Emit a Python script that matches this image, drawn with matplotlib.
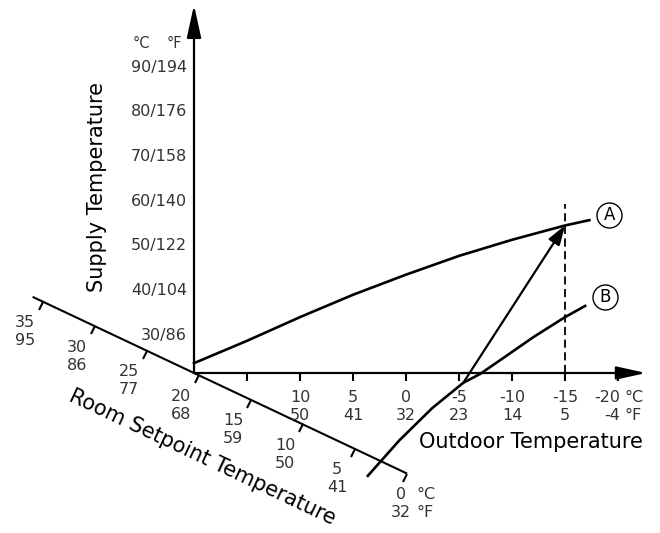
import matplotlib
matplotlib.use('Agg')
import matplotlib.pyplot as plt
from matplotlib.markers import MarkerStyle, TICKDOWN
from matplotlib.transforms import Affine2D
import numpy as np

plt.rcParams['font.family'] = ['DejaVu Sans', 'Liberation Sans']

# ---------------- data ----------------
supply_c = [30, 40, 50, 60, 70, 80, 90]
supply_f = [86, 104, 122, 140, 158, 176, 194]

outdoor_ticks = [15, 10, 5, 0, -5, -10, -15, -20]
outdoor_c = ['', '10', '5', '0', '-5', '-10', '-15', '-20']
outdoor_f = ['', '50', '41', '32', '23', '14', '5', '-4']

room_ticks = [35, 30, 25, 20, 15, 10, 5, 0]
room_c = ['35', '30', '25', '20', '15', '10', '5', '0']
room_f = ['95', '86', '77', '68', '59', '50', '41', '32']

curve_a_outdoor = [20, 15, 10, 5, 0, -5, -10, -15, -17.3]
curve_a_supply = [22.2, 27.2, 32.5, 37.5, 42.0, 46.2, 49.8, 53.0, 54.2]

curve_b_outdoor = [3.6, 0.6, -2.5, -5.4, -7.0, -8.9, -12.0, -15.0, -16.9]
curve_b_supply = [-3.0, 5.0, 12.2, 17.8, 19.8, 22.9, 28.0, 32.5, 35.0]

shift_from = (-5.4, 17.8)   # (outdoor, supply) on curve B
shift_to = (-15.0, 53.0)    # (outdoor, supply) on curve A
design_outdoor = -15
origin = (20, 20)           # outdoor 20 / supply 20 / room 20

# ---------------- layout ----------------
W, H = 660, 533
OX, OY = 194, 373          # origin in image pixels
PX_T, PX_S = 10.6, 4.47    # pixels per degree
fig = plt.figure(figsize=(W / 100, H / 100), dpi=100)
ax = fig.add_axes([0, 0, 1, 1])
ax.set_xlim(20 + OX / PX_T, 20 - (W - OX) / PX_T)
ax.set_ylim(20 - (H - OY) / PX_S, 20 + OY / PX_S)
ax.axis('off')

inv = ax.transData.inverted()


def img2data(x, y):
    return inv.transform((x, H - y))


LBL = '#333333'
TFS = 11.5
TITLE_FS = 15

# axes arrows
ax.annotate('', xy=(20, 20 + (OY - 5) / PX_S), xytext=origin,
            arrowprops=dict(arrowstyle='-|>,head_length=1.0,head_width=0.22',
                            mutation_scale=20, lw=1.6, color='k',
                            shrinkA=0, shrinkB=0))
ax.annotate('', xy=(20 - (646 - OX) / PX_T, 20), xytext=origin,
            arrowprops=dict(arrowstyle='-|>,head_length=0.9,head_width=0.2',
                            mutation_scale=20, lw=1.6, color='k',
                            shrinkA=0, shrinkB=0))

# outdoor ticks & labels
ax.plot(outdoor_ticks, [20] * len(outdoor_ticks), ls='none', marker=TICKDOWN,
        ms=6, mew=1.5, color='k')
for t, c, f in zip(outdoor_ticks, outdoor_c, outdoor_f):
    if not c:
        continue
    if t == outdoor_ticks[-1]:
        ax.annotate(c, (t, 20), xytext=(2, -24), textcoords='offset pixels',
                    ha='right', va='center', fontsize=TFS, color=LBL)
        ax.annotate(f, (t, 20), xytext=(2, -42), textcoords='offset pixels',
                    ha='right', va='center', fontsize=TFS, color=LBL)
        ax.annotate('°C', (t, 20), xytext=(7, -24), textcoords='offset pixels',
                    ha='left', va='center', fontsize=TFS, color=LBL)
        ax.annotate('°F', (t, 20), xytext=(7, -42), textcoords='offset pixels',
                    ha='left', va='center', fontsize=TFS, color=LBL)
    else:
        ax.annotate(c, (t, 20), xytext=(0, -24), textcoords='offset pixels',
                    ha='center', va='center', fontsize=TFS, color=LBL)
        ax.annotate(f, (t, 20), xytext=(0, -42), textcoords='offset pixels',
                    ha='center', va='center', fontsize=TFS, color=LBL)

# supply labels
for c, f in zip(supply_c, supply_f):
    ax.annotate(f'{c}/{f}', (20, c), xytext=(-7, -7), textcoords='offset pixels',
                ha='right', va='center', fontsize=TFS, color=LBL)
ax.annotate('°C', (20, supply_c[-1]), xytext=(-53, 17), textcoords='offset pixels',
            ha='center', va='center', fontsize=TFS - 1, color=LBL)
ax.annotate('°F', (20, supply_c[-1]), xytext=(-20, 17), textcoords='offset pixels',
            ha='center', va='center', fontsize=TFS - 1, color=LBL)

# oblique room setpoint axis
SLOPE = 0.472
ANG = np.degrees(np.arctan(SLOPE))
ROOM_PX = 10.4
ROOM_SHIFT = 5


def room_data(r):
    dx = ROOM_SHIFT + (20 - r) * ROOM_PX
    return img2data(OX + dx, OY + dx * SLOPE)


r_line = [36, 0]
pts = np.array([room_data(r) for r in r_line])
ax.plot(pts[:, 0], pts[:, 1], color='k', lw=1.5, solid_capstyle='butt')
tpts = np.array([room_data(r) for r in room_ticks])
ax.plot(tpts[:, 0], tpts[:, 1], ls='none',
        marker=MarkerStyle(TICKDOWN, transform=Affine2D().rotate_deg(-ANG)),
        ms=6, mew=1.5, color='k')
for r, c, f, p in zip(room_ticks, room_c, room_f, tpts):
    if r == room_ticks[-1]:
        for txt, dy in ((c, -21), (f, -39)):
            ax.annotate(txt, p, xytext=(-6, dy), textcoords='offset pixels',
                        ha='center', va='center', fontsize=TFS, color=LBL)
        for txt, dy in (('°C', -21), ('°F', -39)):
            ax.annotate(txt, p, xytext=(10, dy), textcoords='offset pixels',
                        ha='left', va='center', fontsize=TFS, color=LBL)
    else:
        ax.annotate(c, p, xytext=(-18, -21), textcoords='offset pixels',
                    ha='center', va='center', fontsize=TFS, color=LBL)
        ax.annotate(f, p, xytext=(-18, -39), textcoords='offset pixels',
                    ha='center', va='center', fontsize=TFS, color=LBL)

# curves
ax.plot(curve_a_outdoor, curve_a_supply, color='k', lw=1.9)
ax.plot(curve_b_outdoor, curve_b_supply, color='k', lw=1.9)

# design dashed line
ax.plot([design_outdoor, design_outdoor], [20, 20 + (OY - 204) / PX_S],
        color='k', lw=1.3, ls=(0, (4.5, 2.5)))

# shift arrow
ax.annotate('', xy=shift_to, xytext=shift_from,
            arrowprops=dict(arrowstyle='-|>,head_length=0.9,head_width=0.3',
                            mutation_scale=13, lw=1.6, color='k',
                            shrinkA=0, shrinkB=0))

# circled labels
for name, xs, ys, off in (('A', curve_a_outdoor, curve_a_supply, (20, 5)),
                          ('B', curve_b_outdoor, curve_b_supply, (20, 9))):
    d = ax.transData.transform((xs[-1], ys[-1])) + np.array(off)
    p = inv.transform(d)
    ax.plot([p[0]], [p[1]], marker='o', ms=18, mfc='none', mec='k', mew=1.0)
    ax.text(p[0], p[1], name, ha='center', va='center', fontsize=12)

# titles
p = img2data(97, 187)
ax.text(p[0], p[1], 'Supply Temperature', rotation=90, ha='center', va='center',
        fontsize=TITLE_FS)
p = img2data(643, 442)
ax.text(p[0], p[1], 'Outdoor Temperature', ha='right', va='center',
        fontsize=TITLE_FS)
p = img2data(202, 457)
ax.text(p[0], p[1], 'Room Setpoint Temperature', rotation=-ANG,
        rotation_mode='anchor', ha='center', va='center', fontsize=TITLE_FS)

fig.savefig('out.png', dpi=100)
